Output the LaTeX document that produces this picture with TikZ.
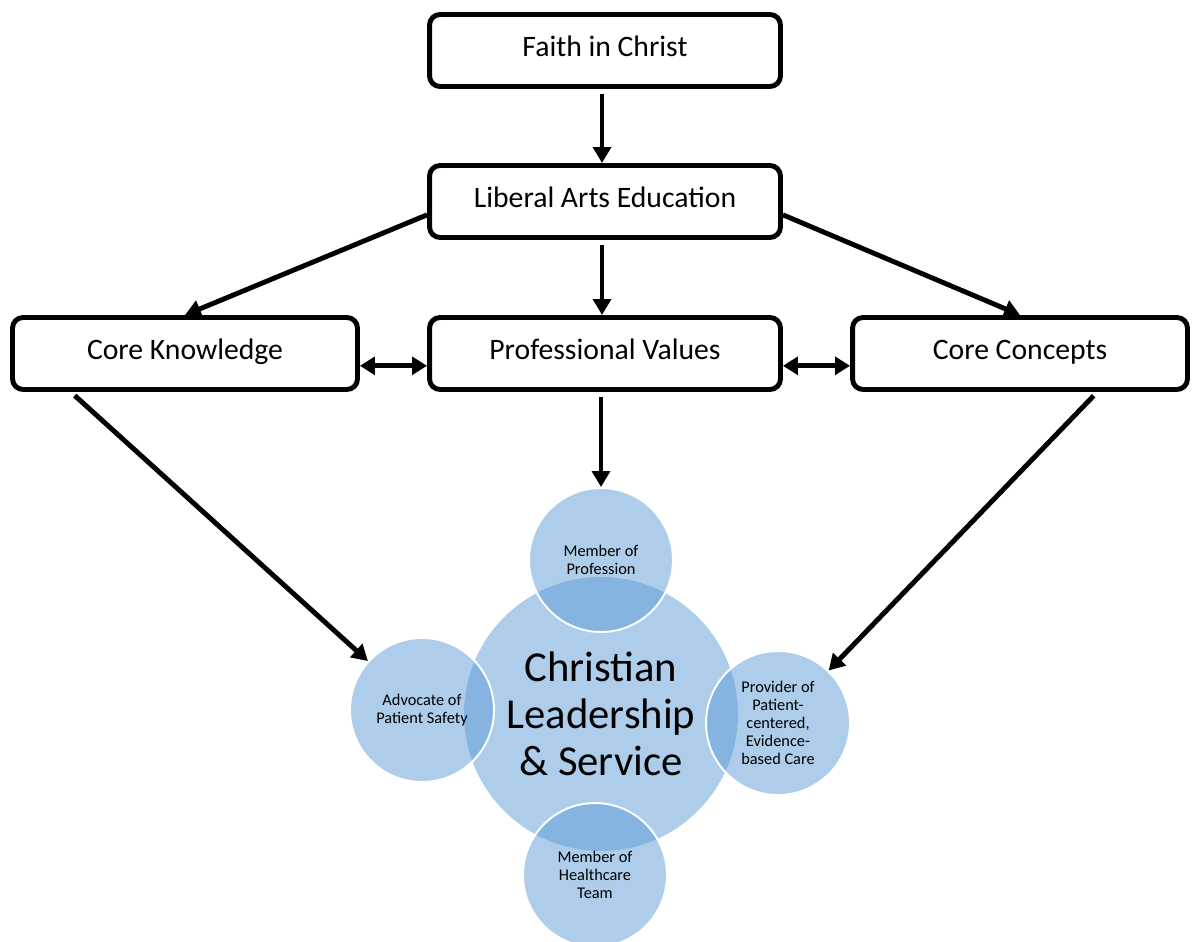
\documentclass[tikz,border=0pt]{standalone}
\usepackage{fontspec}
\setmainfont{Carlito}
\usetikzlibrary{arrows.meta}
\definecolor{cblue}{RGB}{91,155,213}
\tikzset{
  box/.style={draw, line width=2.8pt, rounded corners=6pt, minimum width=7.02cm, minimum height=1.44cm, text height=0.8em, text depth=0.15em, font=\fontsize{16.9}{20}\selectfont},
  link/.style={line width=2.8pt, -{Triangle[length=9pt,width=10pt]}},
  dlink/.style={line width=2.8pt, {Triangle[length=8.5pt,width=10pt]}-{Triangle[length=8.5pt,width=10pt]}},
  hub/.style={shape=circle, fill=cblue, fill opacity=0.5, text opacity=1, minimum size=5.48cm, inner sep=0pt, align=center, font=\fontsize{24.3}{26.6}\selectfont},
  role/.style={shape=circle, fill=cblue, fill opacity=0.5, text opacity=1, draw=white, draw opacity=1, line width=1.1pt, minimum size=2.88cm, inner sep=0pt, align=center, font=\fontsize{9.3}{10.2}\selectfont}
}
\begin{document}
\begin{tikzpicture}[x=0.02cm,y=-0.02cm]
\useasboundingbox (0,0) rectangle (1192,942);
\node[box] (FC) at (605,50.5) {Faith in Christ};
\node[box] (LA) at (605,201.5) {Liberal Arts Education};
\node[box,minimum width=6.9cm] (CK) at (185,353.5) {Core Knowledge};
\node[box] (PV) at (605,353.5) {Professional Values};
\node[box,minimum width=6.7cm] (CC) at (1020,353.5) {Core Concepts};
\node[hub] (CLS) at (601,714) {Christian\\Leadership\\\& Service};
\node[role] (MP) at (601,560) {Member of\\Profession};
\node[role] (AP) at (422,710) {Advocate of\\Patient Safety};
\node[role] (PC) at (778,723) {Provider of\\Patient-\\centered,\\Evidence-\\based Care};
\node[role] (MH) at (595,875) {Member of\\Healthcare\\Team};
\draw[link,shorten <=3pt] ([xshift=-1.7pt]FC.south) -- ([xshift=-1.7pt]LA.north);
\draw[link] ([yshift=-7.6pt]LA.west) -- (CK.north);
\draw[link,shorten <=3pt] ([xshift=-1.7pt]LA.south) -- ([xshift=-1.7pt]PV.north);
\draw[link] ([yshift=-7.6pt]LA.east) -- (CC.north);
\draw[dlink] ([yshift=-7pt]CK.east) -- ([yshift=-7pt]PV.west);
\draw[dlink] ([yshift=-7pt]PV.east) -- ([yshift=-7pt]CC.west);
\draw[link,shorten <=3pt] (PV.south -| MP.north) -- (MP.north);
\draw[link,shorten <=3pt] ([xshift=-65pt]CK.south) -- (AP);
\draw[link,shorten <=3pt] ([xshift=44pt]CC.south) -- (PC);
\end{tikzpicture}
\end{document}
